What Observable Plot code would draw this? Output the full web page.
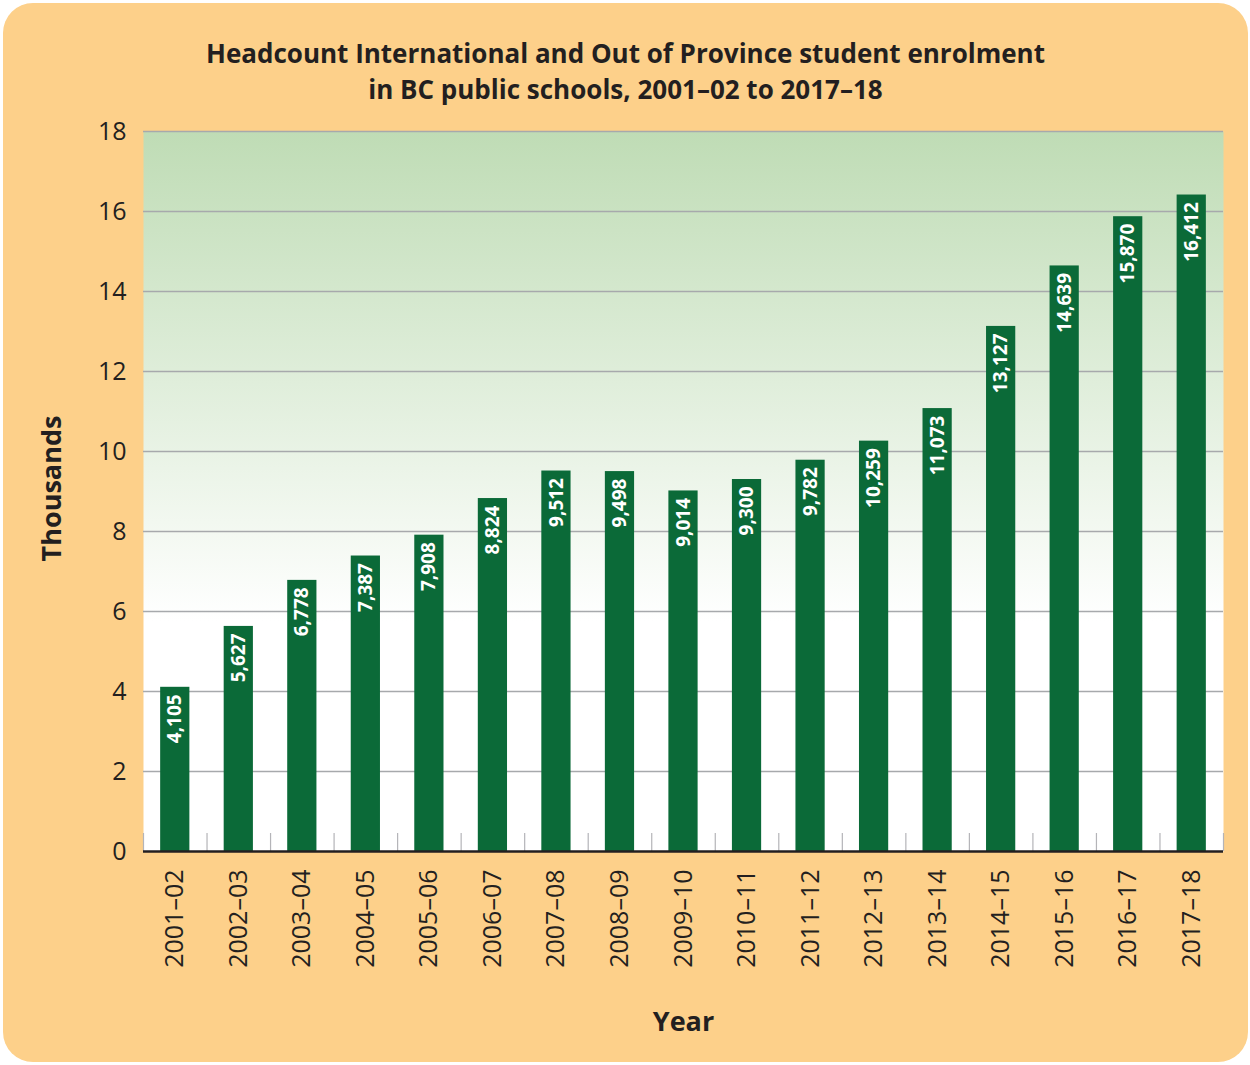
<!DOCTYPE html>
<html>
<head>
<meta charset="utf-8">
<script src="https://cdn.jsdelivr.net/npm/d3@7"></script>
<script src="https://cdn.jsdelivr.net/npm/@observablehq/plot@0.6"></script>
<style>
  html, body { margin: 0; padding: 0; background: #ffffff; }
  #card { position: absolute; left: 3px; top: 3px; width: 1245px; height: 1059px; background: #fdd08a; border-radius: 30px; }
  .title { position: absolute; left: 3px; width: 1245px; text-align: center; font-family: "Open Sans", sans-serif; font-weight: bold; font-size: 26px; line-height: 26px; height: 26px; color: #231f20; z-index: 2; white-space: nowrap; }
  #chart { position: absolute; left: 0; top: 0; z-index: 1; }
</style>
</head>
<body>
<div id="card"></div>
<div class="title" style="top: 40px;">Headcount International and Out of Province student enrolment</div>
<div class="title" style="top: 76px;">in BC public schools, 2001–02 to 2017–18</div>
<div id="chart"></div>
<script>
const years = ["2001–02","2002–03","2003–04","2004–05","2005–06","2006–07","2007–08","2008–09","2009–10","2010–11","2011–12","2012–13","2013–14","2014–15","2015–16","2016–17","2017–18"];
const enrolment = [4105, 5627, 6778, 7387, 7908, 8824, 9512, 9498, 9014, 9300, 9782, 10259, 11073, 13127, 14639, 15870, 16412];
const yTicks = [0, 2, 4, 6, 8, 10, 12, 14, 16, 18];

const fmt = d3.format(",");
const data = years.map((year, i) => ({year, value: enrolment[i] / 1000, label: fmt(enrolment[i])}));

const W = 1250, H = 1065, ML = 143, MR = 27, MT = 131, MB = 214;
const step = (W - ML - MR) / years.length;
const font = "'Open Sans', sans-serif";

const plot = Plot.plot({
  width: W, height: H,
  marginLeft: ML, marginRight: MR, marginTop: MT, marginBottom: MB,
  style: {background: "transparent", fontFamily: font, fontSize: "25px", color: "#231f20", overflow: "visible"},
  x: {domain: years, paddingInner: 0.54, paddingOuter: 0.27, round: false, label: null, tickSize: 0, tickPadding: 18, tickRotate: -90},
  y: {domain: [0, 18], ticks: yTicks, label: null, tickSize: 0, tickPadding: 17},
  marks: [
    Plot.frame({fill: "url(#bgGrad)", stroke: "none"}),
    Plot.ruleY(yTicks.filter(t => t > 0), {stroke: "#a7a9ac", strokeWidth: 1.4, strokeOpacity: 1}),
    Plot.barY(data, {x: "year", y: "value", fill: "#0b6a38"}),
    Plot.ruleX(years, {x: d => d, y1: 0, y2: 0.45, dx: -step / 2, stroke: "#b4b4b8", strokeWidth: 1.2}),
    Plot.ruleX([years[years.length - 1]], {x: d => d, y1: 0, y2: 0.45, dx: step / 2, stroke: "#b4b4b8", strokeWidth: 1.2}),
    Plot.ruleY([0], {stroke: "#231f20", strokeWidth: 2.5}),
    Plot.text(data, {x: "year", y: "value", text: "label", rotate: -90, textAnchor: "end", lineAnchor: "middle", dy: 7, fill: "white", fontWeight: "bold", fontSize: 19}),
    Plot.text(["Thousands"], {text: d => d, frameAnchor: "left", textAnchor: "middle", dx: -91, dy: -3, rotate: -90, fontSize: 27, fontWeight: "bold", fill: "#231f20"}),
    Plot.text(["Year"], {text: d => d, frameAnchor: "bottom", textAnchor: "middle", lineAnchor: "middle", dy: 171, fontSize: 27, fontWeight: "bold", fill: "#231f20"})
  ]
});

// gradient definition for the plot area background
const ns = "http://www.w3.org/2000/svg";
const defs = document.createElementNS(ns, "defs");
defs.innerHTML = `<linearGradient id="bgGrad" x1="0" y1="0" x2="0" y2="1">
  <stop offset="0" stop-color="#bfdcb5"/>
  <stop offset="0.68" stop-color="#ffffff"/>
  <stop offset="1" stop-color="#ffffff"/>
</linearGradient>`;
plot.insertBefore(defs, plot.firstChild);

document.getElementById("chart").appendChild(plot);
</script>
</body>
</html>
